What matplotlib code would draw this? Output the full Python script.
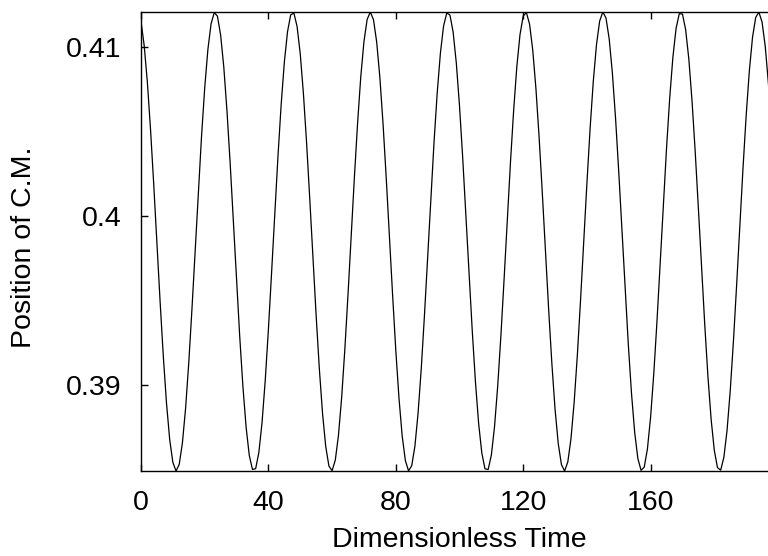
import matplotlib
matplotlib.use("Agg")
import matplotlib.pyplot as plt
from matplotlib.ticker import FuncFormatter

# Valeurs, un point par unité de temps (t = 0 .. 200)
time = list(range(0, 201))
position = [
    0.41151, 0.41009, 0.40791, 0.40510, 0.40186, 0.39839, 0.39493, 0.39171, 0.38894, 0.38679,
    0.38542, 0.38491, 0.38530, 0.38657, 0.38862, 0.39132, 0.39450, 0.39794, 0.40142, 0.40470,
    0.40757, 0.40985, 0.41137, 0.41204, 0.41182, 0.41071, 0.40880, 0.40620, 0.40310, 0.39969,
    0.39620, 0.39286, 0.38990, 0.38750, 0.38583, 0.38500, 0.38505, 0.38600, 0.38777, 0.39025,
    0.39328, 0.39665, 0.40014, 0.40352, 0.40657, 0.40909, 0.41090, 0.41190, 0.41201, 0.41122,
    0.40959, 0.40723, 0.40430, 0.40097, 0.39749, 0.39407, 0.39094, 0.38831, 0.38636, 0.38520,
    0.38493, 0.38555, 0.38702, 0.38926, 0.39211, 0.39537, 0.39884, 0.40229, 0.40549, 0.40823,
    0.41032, 0.41163, 0.41207, 0.41161, 0.41029, 0.40819, 0.40544, 0.40224, 0.39878, 0.39531,
    0.39205, 0.38922, 0.38699, 0.38553, 0.38492, 0.38522, 0.38638, 0.38835, 0.39099, 0.39413,
    0.39755, 0.40103, 0.40435, 0.40728, 0.40963, 0.41124, 0.41201, 0.41189, 0.41088, 0.40905,
    0.40652, 0.40346, 0.40008, 0.39659, 0.39322, 0.39020, 0.38774, 0.38598, 0.38504, 0.38500,
    0.38585, 0.38754, 0.38995, 0.39292, 0.39626, 0.39975, 0.40316, 0.40625, 0.40884, 0.41074,
    0.41183, 0.41204, 0.41135, 0.40981, 0.40753, 0.40465, 0.40136, 0.39788, 0.39444, 0.39127,
    0.38857, 0.38654, 0.38529, 0.38491, 0.38544, 0.38682, 0.38898, 0.39176, 0.39500, 0.39846,
    0.40192, 0.40516, 0.40795, 0.41012, 0.41153, 0.41207, 0.41171, 0.41048, 0.40845, 0.40577,
    0.40261, 0.39917, 0.39569, 0.39240, 0.38951, 0.38720, 0.38565, 0.38495, 0.38514, 0.38621,
    0.38810, 0.39067, 0.39376, 0.39716, 0.40065, 0.40400, 0.40698, 0.40940, 0.41110, 0.41197,
    0.41195, 0.41103, 0.40929, 0.40683, 0.40382, 0.40046, 0.39697, 0.39358, 0.39051, 0.38798,
    0.38613, 0.38511, 0.38496, 0.38571, 0.38731, 0.38965, 0.39257, 0.39588, 0.39936, 0.40279,
    0.40593, 0.40858, 0.41057, 0.41175, 0.41206, 0.41147, 0.41003, 0.40782, 0.40499, 0.40174,
    0.39827,
]
x_ticks = [0, 40, 80, 120, 160]
y_ticks = [0.39, 0.40, 0.41]

plt.rcParams['font.family'] = ['Liberation Sans', 'DejaVu Sans']

fig = plt.figure(figsize=(7.68, 5.56), dpi=100)
# l'axe de droite sort de l'image, comme sur l'original
ax = fig.add_axes([141 / 768, 1 - 471 / 556, (778 - 141) / 768, (471 - 12) / 556])
ax.plot(time, position, color='black', linewidth=0.9)

ax.set_xlim(0, 200)
ax.set_ylim(min(position), max(position))
ax.set_xticks(x_ticks)
ax.set_yticks(y_ticks)
ax.yaxis.set_major_formatter(FuncFormatter(lambda v, p: '%g' % round(v, 4)))
ax.tick_params(direction='in', length=5, width=1, top=True, right=True,
               labelsize=20.5, pad=14)
for s in ax.spines.values():
    s.set_linewidth(1.0)

ax.set_xlabel('Dimensionless Time', fontsize=20.5)
ax.set_ylabel('Position of C.M.', fontsize=20.5)
ax.xaxis.set_label_coords(0.5, -0.122)
ax.yaxis.set_label_coords(-0.1635, 0.488)

fig.savefig('out.png', dpi=100)
